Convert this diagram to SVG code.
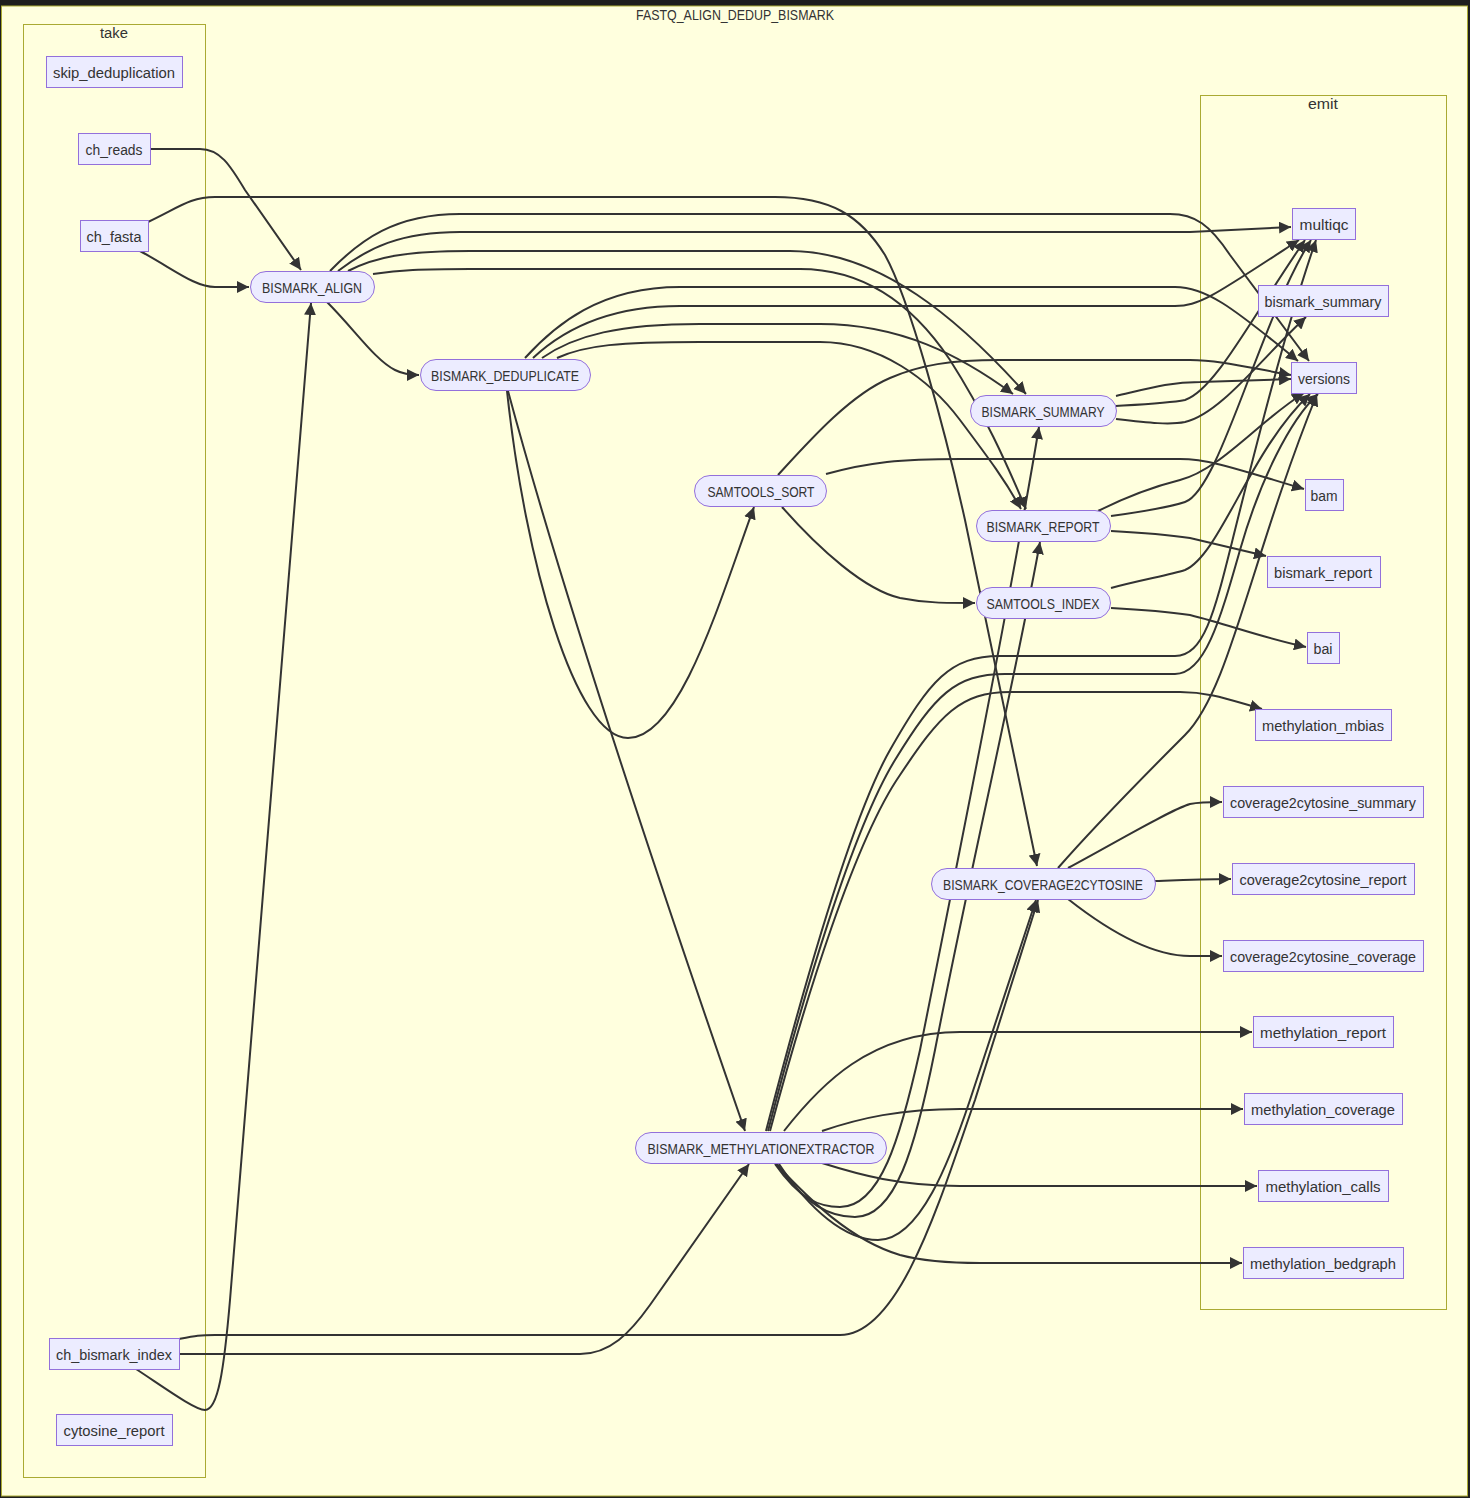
<svg xmlns="http://www.w3.org/2000/svg" width="1470" height="1498" viewBox="0 0 1470 1498">
<style>
.lbl{font-family:"Liberation Sans",Arial,sans-serif;font-size:15.5px;fill:#333;text-anchor:middle}
.cl{fill:#ffffde;stroke:#aaaa33;stroke-width:1}
.n rect{fill:#ECECFF;stroke:#9370DB;stroke-width:1}
.e path{fill:none;stroke:#333;stroke-width:2;marker-end:url(#arr)}
</style>
<defs>
<marker id="arr" viewBox="0 0 10 10" refX="10" refY="5" markerUnits="userSpaceOnUse" markerWidth="12" markerHeight="12" orient="auto">
<path d="M0,0 L10,5 L0,10 z" fill="#333"/>
</marker>
</defs>
<rect x="0" y="0" width="1470" height="1498" fill="#1e1e1e"/>
<g id="cluster-outer">
<rect class="cl" x="1.5" y="6" width="1466" height="1490"/>
<text class="lbl" x="735" y="20" textLength="198" lengthAdjust="spacingAndGlyphs">FASTQ_ALIGN_DEDUP_BISMARK</text>
</g>
<g id="cluster-take">
<rect class="cl" x="23.5" y="24.5" width="182" height="1453"/>
<text class="lbl" x="114" y="38" textLength="28" lengthAdjust="spacingAndGlyphs">take</text>
</g>
<g id="cluster-emit">
<rect class="cl" x="1200.5" y="95.5" width="246" height="1214"/>
<text class="lbl" x="1323" y="109" textLength="30" lengthAdjust="spacingAndGlyphs">emit</text>
</g>
<g id="connectors" class="e">
<path d="M150,149 H200 C220,149 230,165 245,190 L301,270"/>
<path d="M140,251 C175,270 195,287 215,287 L249,287"/>
<path d="M148,222 C178,208 190,197 215,197 H775 C830,197 860,215 885,255 C910,300 945,430 965,520 L1037,866"/>
<path d="M136,1369 C165,1388 195,1410 205,1410 C218,1410 224,1370 230,1300 L311,303"/>
<path d="M179,1339 C195,1336 200,1335 215,1335 H840 C900,1335 940,1200 975,1100 L1038,900"/>
<path d="M179,1354 H580 C610,1354 630,1333 650,1305 L749,1164"/>
<path d="M327,302 C355,330 375,360 395,370 Q405,375 419,375"/>
<path d="M330,271 C360,240 395,214 460,214 H1170 C1195,214 1210,225 1230,255 L1309,361"/>
<path d="M338,271 C368,248 400,232 460,232 H1190 L1291,227"/>
<path d="M348,271 C375,257 405,251 470,251 H790 C880,251 960,320 1026,394"/>
<path d="M373,274 C400,270 420,269 470,269 H800 C860,269 910,300 950,360 C985,415 1005,460 1026,509"/>
<path d="M525,358 C555,325 600,287 680,287 H1175 C1205,287 1230,305 1298,361"/>
<path d="M533,358 C565,328 610,306 680,306 H1175 C1200,306 1215,295 1299,240"/>
<path d="M542,358 C575,335 620,324 700,324 H820 C900,324 960,355 1013,394"/>
<path d="M557,358 C585,345 620,342 700,342 H820 C880,342 930,380 960,420 C990,460 1005,480 1021,509"/>
<path d="M508,391 Q575,640 745,1131"/>
<path d="M507,391 C525,560 575,738 628,738 C680,738 720,600 754,507"/>
<path d="M778,475 C810,440 850,395 890,378 C920,365 950,360 1000,360 H1190 C1220,360 1250,368 1291,375"/>
<path d="M826,474 C870,462 900,459 960,459 H1180 C1210,459 1240,470 1304,489"/>
<path d="M782,507 C820,550 865,590 900,598 C925,603 945,603 975,603"/>
<path d="M1116,396 C1150,388 1170,382 1200,382 L1291,379"/>
<path d="M1116,406 C1150,404 1170,403 1185,400 C1215,390 1250,320 1305,240"/>
<path d="M1116,419 C1150,423 1170,425 1185,422 C1220,414 1260,360 1306,317"/>
<path d="M1098,511 C1130,495 1160,485 1180,480 C1220,470 1260,420 1304,393"/>
<path d="M1111,516 C1140,512 1170,507 1185,502 C1220,490 1260,320 1311,240"/>
<path d="M1111,531 C1150,533 1170,535 1190,538 C1220,545 1240,550 1266,556"/>
<path d="M1111,588 C1140,580 1170,575 1185,570 C1220,555 1250,450 1310,394"/>
<path d="M1111,608 C1150,610 1170,612 1190,615 C1230,625 1260,637 1306,647"/>
<path d="M1058,868 C1100,820 1150,770 1185,735 C1230,690 1250,560 1317,394"/>
<path d="M1068,868 C1120,840 1170,810 1190,804 Q1200,802 1222,802"/>
<path d="M1155,881 C1180,880 1200,879 1231,879"/>
<path d="M1068,899 C1120,940 1160,956 1190,956 H1222"/>
<path d="M766,1131 C800,1000 850,820 890,750 C930,680 950,656 1000,656 H1175 C1205,656 1215,610 1235,530 C1255,450 1285,330 1316,240"/>
<path d="M768,1131 C802,1000 852,830 895,760 C935,695 955,674 1005,674 H1175 C1205,674 1220,620 1240,550 C1260,480 1290,420 1318,394"/>
<path d="M770,1131 C805,1000 855,840 900,775 C940,715 960,692 1010,692 H1180 C1210,692 1230,700 1262,709"/>
<path d="M784,1131 C820,1085 870,1032 960,1032 H1252"/>
<path d="M822,1131 C860,1118 900,1109 960,1109 H1243"/>
<path d="M822,1163 C860,1175 900,1186 960,1186 H1257"/>
<path d="M776,1164 C810,1200 850,1240 900,1255 Q930,1263 980,1263 H1242"/>
<path d="M775,1164 C800,1200 820,1207 840,1207 C880,1207 900,1140 920,1050 C960,850 1010,600 1039,427"/>
<path d="M777,1164 C805,1205 830,1217 855,1217 C895,1217 915,1150 935,1050 C970,870 1015,680 1040,542"/>
<path d="M779,1164 C810,1210 845,1240 878,1240 C920,1240 950,1160 970,1100 L1036,900"/>
</g>
<g id="skip_deduplication" class="n"><rect x="46.5" y="56.5" width="136" height="31"/><text class="lbl" x="114" y="77.5" textLength="122" lengthAdjust="spacingAndGlyphs">skip_deduplication</text></g>
<g id="ch_reads" class="n"><rect x="78.5" y="133.5" width="72" height="31"/><text class="lbl" x="114" y="154.5" textLength="57" lengthAdjust="spacingAndGlyphs">ch_reads</text></g>
<g id="ch_fasta" class="n"><rect x="80.5" y="220.5" width="68" height="31"/><text class="lbl" x="114" y="241.5" textLength="55" lengthAdjust="spacingAndGlyphs">ch_fasta</text></g>
<g id="ch_bismark_index" class="n"><rect x="49.5" y="1338.5" width="130" height="31"/><text class="lbl" x="114" y="1359.5" textLength="116" lengthAdjust="spacingAndGlyphs">ch_bismark_index</text></g>
<g id="cytosine_report" class="n"><rect x="56.5" y="1414.5" width="116" height="31"/><text class="lbl" x="114" y="1435.5" textLength="101" lengthAdjust="spacingAndGlyphs">cytosine_report</text></g>
<g id="BISMARK_ALIGN" class="n"><rect x="250.5" y="271.5" width="124" height="31" rx="15.5"/><text class="lbl" x="312" y="292.5" textLength="100" lengthAdjust="spacingAndGlyphs">BISMARK_ALIGN</text></g>
<g id="BISMARK_DEDUPLICATE" class="n"><rect x="420.5" y="359.5" width="170" height="31" rx="15.5"/><text class="lbl" x="505" y="380.5" textLength="148" lengthAdjust="spacingAndGlyphs">BISMARK_DEDUPLICATE</text></g>
<g id="SAMTOOLS_SORT" class="n"><rect x="694.5" y="475.5" width="132" height="31" rx="15.5"/><text class="lbl" x="761" y="496.5" textLength="107" lengthAdjust="spacingAndGlyphs">SAMTOOLS_SORT</text></g>
<g id="BISMARK_SUMMARY" class="n"><rect x="970.5" y="395.5" width="146" height="31" rx="15.5"/><text class="lbl" x="1043" y="416.5" textLength="123" lengthAdjust="spacingAndGlyphs">BISMARK_SUMMARY</text></g>
<g id="BISMARK_REPORT" class="n"><rect x="976.5" y="510.5" width="134" height="31" rx="15.5"/><text class="lbl" x="1043" y="531.5" textLength="113" lengthAdjust="spacingAndGlyphs">BISMARK_REPORT</text></g>
<g id="SAMTOOLS_INDEX" class="n"><rect x="976.5" y="587.5" width="134" height="31" rx="15.5"/><text class="lbl" x="1043" y="608.5" textLength="113" lengthAdjust="spacingAndGlyphs">SAMTOOLS_INDEX</text></g>
<g id="BISMARK_COVERAGE2CYTOSINE" class="n"><rect x="931.5" y="868.5" width="224" height="31" rx="15.5"/><text class="lbl" x="1043" y="889.5" textLength="200" lengthAdjust="spacingAndGlyphs">BISMARK_COVERAGE2CYTOSINE</text></g>
<g id="BISMARK_METHYLATIONEXTRACTOR" class="n"><rect x="635.5" y="1132.5" width="251" height="31" rx="15.5"/><text class="lbl" x="761" y="1153.5" textLength="227" lengthAdjust="spacingAndGlyphs">BISMARK_METHYLATIONEXTRACTOR</text></g>
<g id="multiqc" class="n"><rect x="1292.5" y="208.5" width="63" height="31"/><text class="lbl" x="1324" y="229.5" textLength="49" lengthAdjust="spacingAndGlyphs">multiqc</text></g>
<g id="bismark_summary" class="n"><rect x="1258.5" y="285.5" width="130" height="31"/><text class="lbl" x="1323" y="306.5" textLength="117" lengthAdjust="spacingAndGlyphs">bismark_summary</text></g>
<g id="versions" class="n"><rect x="1291.5" y="362.5" width="65" height="31"/><text class="lbl" x="1324" y="383.5" textLength="52" lengthAdjust="spacingAndGlyphs">versions</text></g>
<g id="bam" class="n"><rect x="1305.5" y="479.5" width="38" height="31"/><text class="lbl" x="1324" y="500.5" textLength="27" lengthAdjust="spacingAndGlyphs">bam</text></g>
<g id="bismark_report" class="n"><rect x="1267.5" y="556.5" width="113" height="31"/><text class="lbl" x="1323" y="577.5" textLength="98" lengthAdjust="spacingAndGlyphs">bismark_report</text></g>
<g id="bai" class="n"><rect x="1307.5" y="632.5" width="32" height="31"/><text class="lbl" x="1323" y="653.5" textLength="19" lengthAdjust="spacingAndGlyphs">bai</text></g>
<g id="methylation_mbias" class="n"><rect x="1255.5" y="709.5" width="136" height="31"/><text class="lbl" x="1323" y="730.5" textLength="122" lengthAdjust="spacingAndGlyphs">methylation_mbias</text></g>
<g id="coverage2cytosine_summary" class="n"><rect x="1223.5" y="786.5" width="200" height="31"/><text class="lbl" x="1323" y="807.5" textLength="186" lengthAdjust="spacingAndGlyphs">coverage2cytosine_summary</text></g>
<g id="coverage2cytosine_report" class="n"><rect x="1232.5" y="863.5" width="182" height="31"/><text class="lbl" x="1323" y="884.5" textLength="167" lengthAdjust="spacingAndGlyphs">coverage2cytosine_report</text></g>
<g id="coverage2cytosine_coverage" class="n"><rect x="1223.5" y="940.5" width="200" height="31"/><text class="lbl" x="1323" y="961.5" textLength="186" lengthAdjust="spacingAndGlyphs">coverage2cytosine_coverage</text></g>
<g id="methylation_report" class="n"><rect x="1253.5" y="1016.5" width="140" height="31"/><text class="lbl" x="1323" y="1037.5" textLength="126" lengthAdjust="spacingAndGlyphs">methylation_report</text></g>
<g id="methylation_coverage" class="n"><rect x="1244.5" y="1093.5" width="158" height="31"/><text class="lbl" x="1323" y="1114.5" textLength="144" lengthAdjust="spacingAndGlyphs">methylation_coverage</text></g>
<g id="methylation_calls" class="n"><rect x="1258.5" y="1170.5" width="130" height="31"/><text class="lbl" x="1323" y="1191.5" textLength="115" lengthAdjust="spacingAndGlyphs">methylation_calls</text></g>
<g id="methylation_bedgraph" class="n"><rect x="1243.5" y="1247.5" width="160" height="31"/><text class="lbl" x="1323" y="1268.5" textLength="146" lengthAdjust="spacingAndGlyphs">methylation_bedgraph</text></g>
</svg>
